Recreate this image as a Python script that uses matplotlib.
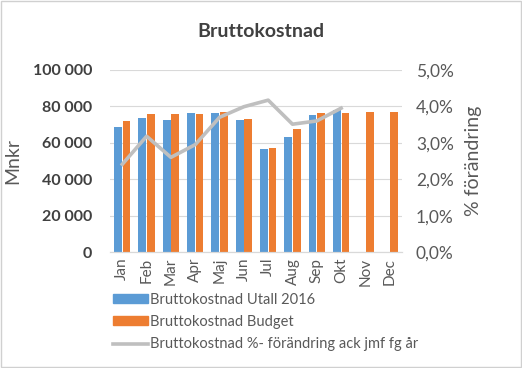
import numpy as np
import matplotlib.pyplot as plt
from matplotlib.patches import Patch, Rectangle
from matplotlib.lines import Line2D
from matplotlib.ticker import FuncFormatter

plt.rcParams['font.family'] = ['Lato', 'DejaVu Sans']

# data
manader = ['Jan', 'Feb', 'Mar', 'Apr', 'Maj', 'Jun', 'Jul', 'Aug', 'Sep', 'Okt', 'Nov', 'Dec']
utfall = [68500, 73400, 72300, 76300, 76300, 72300, 56400, 63000, 75100, 78000]
budget = [71900, 75800, 75800, 75800, 76900, 72900, 56900, 67400, 76200, 76200, 76900, 76900]
forandring = [2.41, 3.18, 2.60, 2.95, 3.70, 3.99, 4.17, 3.51, 3.60, 3.95]

blue = '#5B9BD5'
orange = '#ED7D31'
grey = '#BFBFBF'
txt = '#595959'

fig = plt.figure(figsize=(5.22, 3.68), dpi=100)
fig.patches.append(Rectangle((0.002, 0.003), 0.996, 0.994, transform=fig.transFigure,
                             fill=False, edgecolor='#D0D0D0', linewidth=1))
ax = fig.add_axes([0.211, 0.315, 0.559, 0.495])
ax2 = ax.twinx()

x = np.arange(len(manader))
w = 0.32
ax.bar(x[:len(utfall)] - w / 2 - 0.015, utfall, w, color=blue, zorder=2)
ax.bar(x + w / 2 + 0.015, budget, w, color=orange, zorder=2)
ax2.plot(x[:len(forandring)], forandring, color=grey, linewidth=2.6, zorder=3)

ax.set_xlim(-0.5, len(manader) - 0.5)
ax.set_ylim(0, 100000)
ax.set_yticks(np.arange(0, 100001, 20000))
ax.yaxis.set_major_formatter(FuncFormatter(lambda v, p: f'{int(v):,}'.replace(',', ' ')))
ax2.set_ylim(0, 5)
ax2.set_yticks(np.arange(0, 5.01, 1))
ax2.yaxis.set_major_formatter(FuncFormatter(lambda v, p: f'{v:.1f}%'.replace('.', ',')))

ax.grid(axis='y', color='#D9D9D9', linewidth=0.8, zorder=0)
ax.set_axisbelow(True)
for a in (ax, ax2):
    for s in ('left', 'right', 'top'):
        a.spines[s].set_visible(False)
    a.spines['bottom'].set_color('#D9D9D9')
    a.tick_params(length=0)

ax.set_xticks(x)
ax.set_xticklabels(manader, rotation=90, fontsize=11, color=txt)
ax.tick_params(axis='x', pad=4)
ax.tick_params(axis='y', labelsize=11.5, colors='#404040', pad=13)
for t in ax.get_yticklabels():
    t.set_fontweight('bold')
ax2.tick_params(axis='y', labelsize=12.5, colors=txt, pad=10)

ax.set_ylabel('Mnkr', fontsize=14, color=txt, labelpad=8)
ax2.set_ylabel('% förändring', fontsize=14, color=txt, labelpad=8)
fig.text(0.5, 0.915, 'Bruttokostnad', ha='center', va='center', fontsize=14,
         fontweight='bold', color='#404040')

handles = [Patch(color=blue), Patch(color=orange), Line2D([], [], color=grey, linewidth=2.6)]
labels = ['Bruttokostnad Utall 2016', 'Bruttokostnad Budget',
          'Bruttokostnad %- förändring ack jmf fg år']
leg = fig.legend(handles, labels, loc='upper left', bbox_to_anchor=(0.216, 0.205),
                 frameon=False, fontsize=10.5, handlelength=2.4, handleheight=0.55,
                 handletextpad=0.15, labelspacing=0.58, borderaxespad=0, borderpad=0)
for t in leg.get_texts():
    t.set_color(txt)

fig.savefig('out.png', dpi=100)
